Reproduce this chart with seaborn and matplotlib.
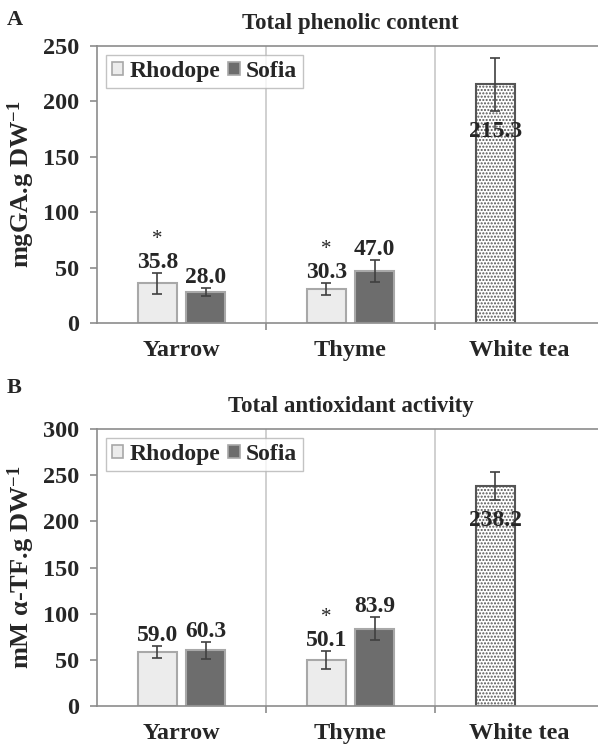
import numpy as np
import pandas as pd
import matplotlib
matplotlib.use('Agg')
import matplotlib.pyplot as plt
from matplotlib.patches import Patch
import seaborn as sns

# ── Data ──────────────────────────────────────────────────────────────
plants = ['Yarrow', 'Thyme', 'White tea']
cultivars = ['Rhodope', 'Sofia']

# Panel A – total phenolic content (mgGA.g DW-1)
phenolic_rhodope = [35.8, 30.3, 215.3]      # white tea sits in the first series slot
phenolic_rhodope_err = [9.5, 5.4, 24.0]
phenolic_sofia = [28.0, 47.0]
phenolic_sofia_err = [3.5, 10.0]
phenolic_star = ['Yarrow', 'Thyme']         # Rhodope bars marked with *

# Panel B – total antioxidant activity (mM α-TF.g DW-1)
antiox_rhodope = [59.0, 50.1, 238.2]
antiox_rhodope_err = [6.5, 9.7, 15.0]
antiox_sofia = [60.3, 83.9]
antiox_sofia_err = [9.0, 12.0]
antiox_star = ['Thyme']

palette = {'Rhodope': '#ececec', 'Sofia': '#6d6d6d'}
edge = '#a8a8a8'
axis_grey = '#8c8c8c'


def make_df(rhod, rhod_err, sofia, sofia_err):
    rows = []
    for p, v, e in zip(plants, rhod, rhod_err):
        rows.append((p, 'Rhodope', v, e))
    for p, v, e in zip(plants, sofia, sofia_err):
        rows.append((p, 'Sofia', v, e))
    return pd.DataFrame(rows, columns=['plant', 'cultivar', 'value', 'err'])


sns.set_theme(style='white')
plt.rcParams['font.family'] = ['Liberation Serif', 'DejaVu Serif']
plt.rcParams['font.weight'] = 'bold'
plt.rcParams['mathtext.fontset'] = 'custom'
plt.rcParams['mathtext.rm'] = 'Liberation Serif:bold'
plt.rcParams['mathtext.bf'] = 'Liberation Serif:bold'
plt.rcParams['mathtext.it'] = 'Liberation Serif:bold:italic'
plt.rcParams['hatch.linewidth'] = 1.0


def draw_panel(ax, df, stars, ymax, title, ylabel):
    sns.barplot(data=df, x='plant', y='value', hue='cultivar', order=plants,
                hue_order=cultivars, palette=palette, width=0.57, gap=0.19,
                errorbar=None, edgecolor=edge, linewidth=1.5, legend=False, ax=ax)

    for cult, cont in zip(cultivars, list(ax.containers)):
        for bar in cont:
            xc = bar.get_x() + bar.get_width() / 2
            plant = plants[int(round(xc))]
            row = df[(df.plant == plant) & (df.cultivar == cult)].iloc[0]
            v, e = row['value'], row['err']
            ax.errorbar(xc, v, yerr=e, fmt='none', ecolor='#404040',
                        elinewidth=1.2, capsize=3.5, capthick=1.2, zorder=4)
            if plant == 'White tea':
                bar.set_facecolor('white')
                bar.set_edgecolor('#555555')
                bar.set_hatch('.....')
                ax.annotate(f'{v:.1f}', xy=(xc, v - e), xytext=(0, -18.5),
                            textcoords='offset points', ha='center', va='baseline',
                            fontsize=17, fontweight='bold', zorder=5)
            else:
                ax.annotate(f'{v:.1f}', xy=(xc, v + e), xytext=(0, 3.6),
                            textcoords='offset points', ha='center', va='baseline',
                            fontsize=17, fontweight='bold', zorder=5)
                if cult == 'Rhodope' and plant in stars:
                    ax.annotate('*', xy=(xc, v + e), xytext=(0, 21),
                                textcoords='offset points', ha='center',
                                va='baseline', fontsize=15, fontweight='normal')

    ax.set_xlim(-0.5, 2.5)
    ax.set_ylim(0, ymax)
    ax.set_yticks(np.arange(0, ymax + 1, 50))
    ax.set_xlabel('')
    ax.set_ylabel(ylabel, fontsize=19, fontweight='bold', labelpad=4)
    ax.set_title(title, fontsize=16.5, fontweight='bold', pad=12.5)

    ax.set_xticks([0.5, 1.5], minor=True)
    ax.tick_params(axis='x', which='major', length=0, labelsize=17.5, pad=12)
    ax.tick_params(axis='x', which='minor', length=5, width=1.2, color=axis_grey,
                   direction='out', bottom=True)
    ax.tick_params(axis='y', which='major', length=5, width=1.2, color=axis_grey,
                   direction='out', left=True, labelsize=17.5, pad=8)
    for lab in ax.get_xticklabels() + ax.get_yticklabels():
        lab.set_fontweight('bold')
    ax.grid(which='minor', axis='x', color='#c8c8c8', linewidth=1.2)
    ax.grid(which='major', axis='y', visible=False)
    ax.set_axisbelow(True)

    for side in ['left', 'bottom', 'top']:
        ax.spines[side].set_color(axis_grey)
        ax.spines[side].set_linewidth(1.2)
    ax.spines['right'].set_visible(False)

    handles = [Patch(facecolor=palette[c], edgecolor=edge, linewidth=1.2, label=c)
               for c in cultivars]
    leg = ax.legend(handles=handles, loc='upper left', bbox_to_anchor=(0.017, 0.968),
                    ncol=2, fontsize=17, frameon=True, fancybox=False,
                    handlelength=0.5, handleheight=0.5, handletextpad=0.25,
                    columnspacing=0.35, borderpad=0.25, borderaxespad=0)
    leg.get_frame().set_edgecolor('#b4b4b4')
    leg.get_frame().set_linewidth(1.0)
    for t in leg.get_texts():
        t.set_fontweight('bold')


fig = plt.figure(figsize=(5.98, 7.46), dpi=100)
W, H = 598, 746
axA = fig.add_axes([97 / W, 1 - 323 / H, 507 / W, 277 / H])
axB = fig.add_axes([97 / W, 1 - 706 / H, 507 / W, 277 / H])

dfA = make_df(phenolic_rhodope, phenolic_rhodope_err, phenolic_sofia, phenolic_sofia_err)
dfB = make_df(antiox_rhodope, antiox_rhodope_err, antiox_sofia, antiox_sofia_err)

draw_panel(axA, dfA, phenolic_star, 250, 'Total phenolic content', r'mgGA.g DW$^{-1}$')
draw_panel(axB, dfB, antiox_star, 300, 'Total antioxidant activity', r'mM α-TF.g DW$^{-1}$')

fig.text(7 / W, 1 - 25 / H, 'A', fontsize=16, fontweight='bold', va='baseline')
fig.text(7 / W, 1 - 393 / H, 'B', fontsize=16, fontweight='bold', va='baseline')

fig.savefig('out.png', dpi=100)
